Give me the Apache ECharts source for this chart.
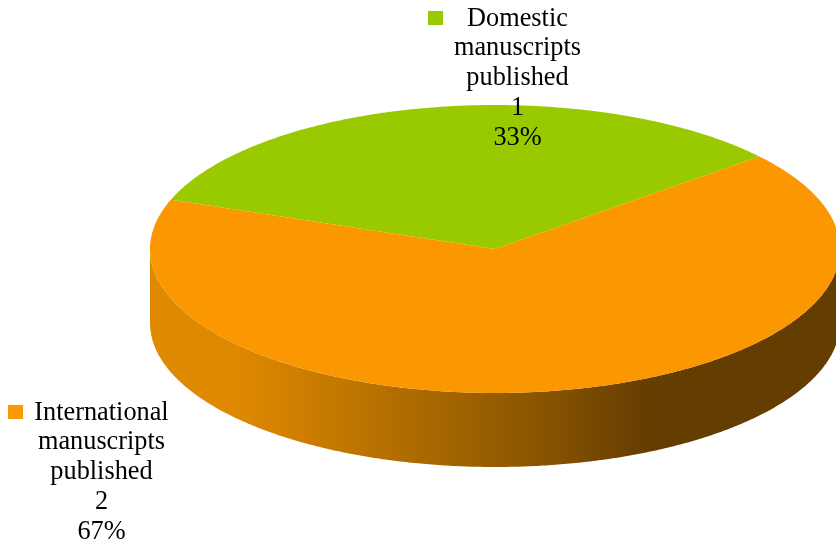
<!DOCTYPE html>
<html>
<head>
<meta charset="utf-8">
<style>html,body{margin:0;padding:0;background:#fff}#c{width:836px;height:545px}</style>
<script src="https://cdn.jsdelivr.net/npm/echarts@6/dist/echarts.min.js"></script>
</head>
<body>
<div id="c"></div>
<script>
const categories = ['Domestic manuscripts published', 'International manuscripts published'];
const values = [1, 2];
const colors = ['#99CA00', '#FB9700'];

// Layout of the tilted disc, in pixels
const CX = 495, CY = 249, RX = 345, RY = 144, DEPTH = 74, START_DEG = 40;
const labelPos = [{x: 517.5, y: 4, mx: 428, my: 11}, {x: 101.5, y: 398, mx: 8, my: 405}];
const wallStops = [
  {offset: 0, color: '#E08A00'},
  {offset: 0.13, color: '#DE8800'},
  {offset: 0.217, color: '#CE7E00'},
  {offset: 0.56, color: '#8A5500'},
  {offset: 0.725, color: '#643D00'},
  {offset: 1, color: '#643D00'}
];

const total = values.reduce((a, b) => a + b, 0);
const rim = (deg, dy) => {
  const t = deg * Math.PI / 180;
  return [CX + RX * Math.cos(t), CY - RY * Math.sin(t) + (dy || 0)];
};
const arcPoints = (a, b, dy) => {
  const n = Math.max(2, Math.ceil(Math.abs(b - a) * 2));
  const out = [];
  for (let i = 0; i <= n; i++) out.push(rim(a + (b - a) * i / n, dy));
  return out;
};

function renderItem(params, api) {
  const i = params.dataIndex;
  const value = api.value(0);
  let before = 0;
  for (let k = 0; k < i; k++) before += values[k];
  const a0 = START_DEG + before / total * 360;
  const a1 = a0 + value / total * 360;
  const children = [];

  // Visible front wall: the part of the slice between 180 and 360 degrees
  const w0 = Math.max(a0, 180), w1 = Math.min(a1, 360);
  if (w1 > w0) {
    const pts = arcPoints(w0, w1, 0).concat(arcPoints(w1, w0, DEPTH));
    children.push({
      type: 'polygon', shape: {points: pts},
      style: {fill: {type: 'linear', x: 0, y: 0, x2: 1, y2: 0, colorStops: wallStops}}
    });
  }
  // Top face
  children.push({
    type: 'polygon',
    shape: {points: [[CX, CY]].concat(arcPoints(a0, a1, 0))},
    style: {fill: colors[i]}
  });
  return {type: 'group', children};
}

function renderLabel(params, api) {
  const i = params.dataIndex;
  const value = api.value(0);
  const p = labelPos[i];
  const text = categories[i].split(' ').join('\n') + '\n' + value + '\n' + Math.round(value / total * 100) + '%';
  return {
    type: 'group',
    children: [
      {type: 'rect', shape: {x: p.mx, y: p.my, width: 15, height: 14}, style: {fill: colors[i]}},
      {type: 'text', x: p.x, y: p.y, style: {
        text, fill: '#000', font: '26.3px "Liberation Serif", serif',
        align: 'center', verticalAlign: 'top', lineHeight: 29.7
      }}
    ]
  };
}

const chart = echarts.init(document.getElementById('c'), null, {renderer: 'canvas'});
chart.setOption({
  animation: false,
  backgroundColor: '#fff',
  tooltip: {show: false},
  series: [
    {type: 'custom', coordinateSystem: 'none', renderItem, data: values.map(v => [v]), z: 1, silent: true},
    {type: 'custom', coordinateSystem: 'none', renderItem: renderLabel, data: values.map(v => [v]), z: 2, silent: true}
  ]
});
</script>
</body>
</html>
